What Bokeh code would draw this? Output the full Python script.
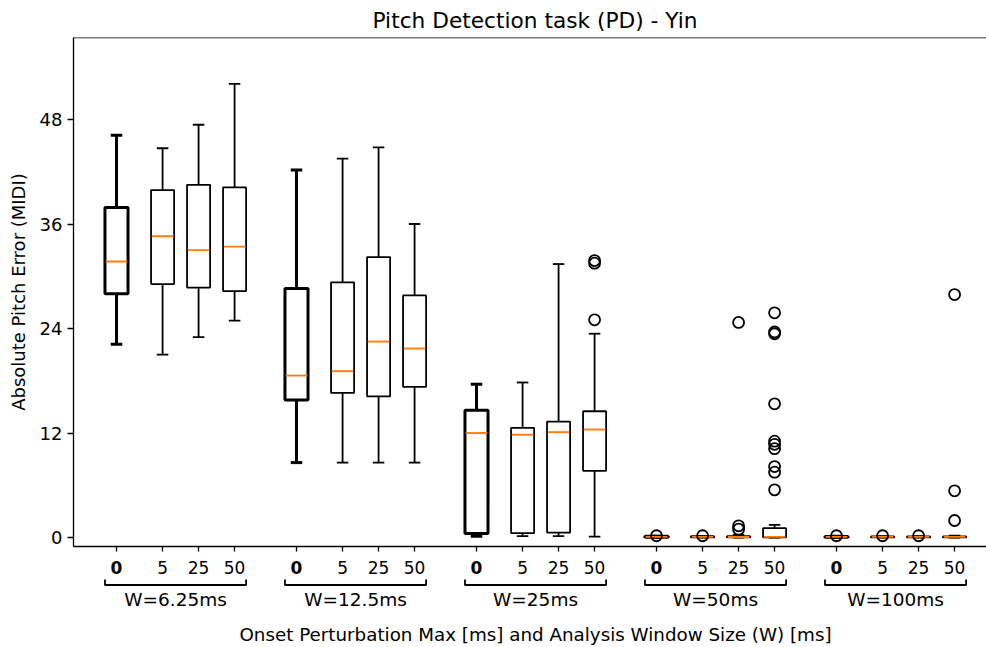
from bokeh.plotting import figure
from bokeh.layouts import column
from bokeh.models import Range1d, FixedTicker, Span, ColumnDataSource
from bokeh.core.properties import value
from bokeh.embed import file_html
from bokeh.resources import INLINE

# ---------------- data ----------------
GROUP_LABELS = ["W=6.25ms", "W=12.5ms", "W=25ms", "W=50ms", "W=100ms"]
PERTURB_LABELS = ["0", "5", "25", "50"]
GROUP_BASE = [1, 6, 11, 16, 21]
OFFSETS = [0.0, 1.28, 2.28, 3.28]

# per box (group-major): lower whisker, q1, median, q3, upper whisker
WHISK_LO = [22.2, 21.0, 23.0, 24.9,
            8.6, 8.6, 8.6, 8.6,
            0.15, 0.15, 0.15, 0.11,
            0.0, 0.0, 0.0, 0.0,
            0.0, 0.0, 0.0, 0.0]
Q1 = [28.0, 29.1, 28.7, 28.3,
      15.8, 16.6, 16.2, 17.3,
      0.46, 0.5, 0.57, 7.66,
      0.02, 0.02, 0.02, 0.02,
      0.02, 0.02, 0.02, 0.02]
MEDIAN = [31.7, 34.6, 33.0, 33.4,
          18.6, 19.1, 22.5, 21.7,
          12.0, 11.8, 12.1, 12.4,
          0.07, 0.07, 0.05, 0.07,
          0.07, 0.07, 0.07, 0.07]
Q3 = [37.9, 39.9, 40.5, 40.2,
      28.6, 29.3, 32.2, 27.8,
      14.6, 12.6, 13.3, 14.5,
      0.15, 0.15, 0.15, 1.07,
      0.12, 0.12, 0.12, 0.12]
WHISK_HI = [46.2, 44.7, 47.4, 52.1,
            42.2, 43.5, 44.8, 36.0,
            17.6, 17.8, 31.4, 23.4,
            0.15, 0.15, 0.3, 1.46,
            0.15, 0.15, 0.15, 0.2]
OUTLIERS = [[], [], [], [],
            [], [], [], [],
            [], [], [], [31.8, 31.5, 25.0],
            [0.2], [0.2], [24.7, 1.34, 0.96],
            [25.8, 23.6, 23.4, 15.35, 11.06, 10.7, 10.2, 8.15, 7.5, 5.47],
            [0.2], [0.2], [0.2], [27.9, 5.36, 1.95]]

Y_TICKS = [0, 12, 24, 36, 48]

# ---------------- layout constants ----------------
W, H = 986, 647
LEFT, TOP = 73, 37
AX_BOTTOM_PX = 546
BOTTOM_PAD = 9
BOX_W = 0.64
PX_PER_X = 36.0
X0_PX = 116  # pixel of first box centre
X_START = GROUP_BASE[0] - (X0_PX - LEFT) / PX_PER_X
X_END = GROUP_BASE[0] + (W - X0_PX) / PX_PER_X
X_MPL_END = GROUP_BASE[0] + (997 - X0_PX) / PX_PER_X
PX_PER_Y = 418 / 48.0
ZERO_PX = 537
YLO = (ZERO_PX - AX_BOTTOM_PX) / PX_PER_Y
YMAX = (ZERO_PX - TOP) / PX_PER_Y

FONT = "DejaVu Sans"

pos, bold, tick_txt = [], [], []
for g, base in enumerate(GROUP_BASE):
    for j, off in enumerate(OFFSETS):
        pos.append(base + off)
        bold.append(j == 0)
        tick_txt.append(PERTURB_LABELS[j])

# ================= main (box plot) figure =================
p = figure(width=W, height=AX_BOTTOM_PX + BOTTOM_PAD, output_backend="svg", toolbar_location=None,
           x_range=Range1d(X_START, X_END), y_range=Range1d(YLO, YMAX),
           min_border_left=LEFT, min_border_top=TOP,
           min_border_right=0, min_border_bottom=BOTTOM_PAD)
p.grid.visible = False
p.outline_line_color = None
p.background_fill_color = "white"
p.border_fill_color = "white"

p.title.text = "Pitch Detection task (PD) - Yin"
p.title.text_font = FONT
p.title.text_font_size = "21.7px"
p.title.text_font_style = "normal"
p.title.align = "left"
p.title.offset = 299
p.title.text_color = "black"

xa = p.xaxis[0]
xa.ticker = FixedTicker(ticks=pos)
xa.major_label_overrides = {x: "" for x in pos}
xa.major_label_text_font_size = "0px"
xa.major_label_standoff = 0
xa.major_tick_out = 5
xa.major_tick_in = 0
xa.minor_tick_line_color = None
xa.axis_line_width = 1.3
xa.major_tick_line_width = 1.3

ya = p.yaxis[0]
ya.ticker = FixedTicker(ticks=Y_TICKS)
ya.major_tick_out = 6
ya.major_tick_in = 0
ya.minor_tick_line_color = None
ya.axis_line_width = 1.3
ya.major_tick_line_width = 1.3
ya.major_label_text_font = FONT
ya.major_label_text_font_size = "18px"
ya.major_label_text_color = "black"
ya.major_label_standoff = 5
ya.axis_label = "Absolute Pitch Error (MIDI)"
ya.axis_label_text_font = FONT
ya.axis_label_text_font_size = "18px"
ya.axis_label_text_font_style = "normal"
ya.axis_label_text_color = "black"
ya.axis_label_standoff = 8

# top spine
p.add_layout(Span(location=YMAX, dimension="width", line_color="black", line_width=1.3))

for k in range(len(pos)):
    lw = 3.0 if bold[k] else 1.8
    x = pos[k]
    p.segment(x0=[x, x], x1=[x, x], y0=[Q3[k], Q1[k]], y1=[WHISK_HI[k], WHISK_LO[k]],
              line_color="black", line_width=lw)
    p.segment(x0=[x - BOX_W / 4] * 2, x1=[x + BOX_W / 4] * 2,
              y0=[WHISK_HI[k], WHISK_LO[k]], y1=[WHISK_HI[k], WHISK_LO[k]],
              line_color="black", line_width=lw)
    p.quad(left=[x - BOX_W / 2], right=[x + BOX_W / 2], bottom=[Q1[k]], top=[Q3[k]],
           fill_color="white", line_color="black", line_width=lw)
    p.segment(x0=[x - BOX_W / 2 + 0.02], x1=[x + BOX_W / 2 - 0.02], y0=[MEDIAN[k]], y1=[MEDIAN[k]],
              line_color="#ff7f0e", line_width=1.9)
    if OUTLIERS[k]:
        p.scatter(x=[x] * len(OUTLIERS[k]), y=OUTLIERS[k], marker="circle", size=11,
                  fill_color=None, line_color="black", line_width=1.8)

# ================= lower strip: tick labels, brackets, x title =================
STRIP_TOP = AX_BOTTOM_PX + BOTTOM_PAD
q = figure(width=W, height=H - STRIP_TOP, output_backend="svg", toolbar_location=None,
           x_range=p.x_range, y_range=Range1d(H, STRIP_TOP),
           x_axis_location=None, y_axis_location=None,
           min_border_left=LEFT, min_border_top=0, min_border_right=0, min_border_bottom=0)
q.grid.visible = False
q.outline_line_color = None
q.background_fill_color = "white"
q.border_fill_color = "white"

src = ColumnDataSource(dict(x=pos, y=[567] * len(pos), t=tick_txt,
                            s=["bold" if b else "normal" for b in bold]))
q.text(x="x", y="y", text="t", source=src,
       text_font=value(FONT), text_font_size="17px", text_font_style="s",
       text_align="center", text_baseline="middle", text_color="black")

gx, gl_x = [], []
for g, base in enumerate(GROUP_BASE):
    xl = base + OFFSETS[0] - BOX_W / 2
    xr = base + OFFSETS[-1] + BOX_W / 2
    gx.append([xl, xl, xr, xr])
    gl_x.append((xl + xr) / 2)
q.multi_line(xs=gx, ys=[[579, 584.5, 584.5, 579]] * len(gx),
             line_color="black", line_width=1.8)
q.text(x=gl_x, y=[599] * len(gl_x), text=GROUP_LABELS,
       text_font=value(FONT), text_font_size="18.5px", text_align="center",
       text_baseline="middle", text_color="black")

q.text(x=[(X_START + X_MPL_END) / 2], y=[634],
       text=["Onset Perturbation Max [ms] and Analysis Window Size (W) [ms]"],
       text_font=value(FONT), text_font_size="18.3px",
       text_align="center", text_baseline="middle", text_color="black")

layout = column(p, q, spacing=0)
open("out.html", "w").write(file_html(layout, INLINE))
